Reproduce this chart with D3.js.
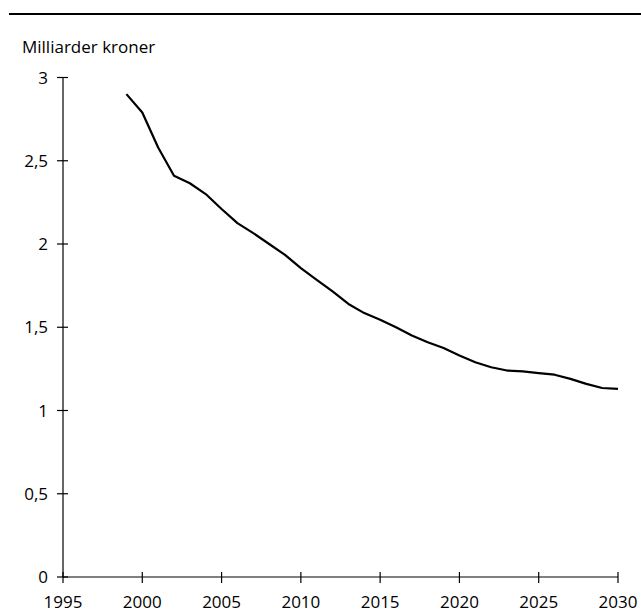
<!DOCTYPE html>
<html><head><meta charset="utf-8">
<script src="https://cdn.jsdelivr.net/npm/d3@7"></script>
<style>
body{margin:0;background:#fff;}
svg text{font-family:"Open Sans","Noto Sans",sans-serif;fill:#000;}
</style></head>
<body>
<svg id="c" width="641" height="614"></svg>
<script>
const years = [1999,2000,2001,2002,2003,2004,2005,2006,2007,2008,2009,2010,2011,2012,2013,2014,2015,2016,2017,2018,2019,2020,2021,2022,2023,2024,2025,2026,2027,2028,2029,2030];
const values = [2.90,2.79,2.58,2.41,2.365,2.30,2.21,2.125,2.065,2.0,1.935,1.855,1.785,1.715,1.64,1.585,1.545,1.50,1.45,1.41,1.375,1.33,1.29,1.26,1.24,1.235,1.225,1.215,1.19,1.16,1.135,1.13];
const xTicks = [1995,2000,2005,2010,2015,2020,2025,2030];
const yTicks = [0,0.5,1,1.5,2,2.5,3];
const yTitle = "Milliarder kroner";

const svg = d3.select("#c");
const fs = 17;
const x = d3.scaleLinear().domain([1995,2030]).range([63,618]);
const y = d3.scaleLinear().domain([0,3]).range([577,77.5]);

svg.append("line").attr("x1",9).attr("x2",641).attr("y1",14).attr("y2",14)
  .attr("stroke","#000").attr("stroke-width",2);

svg.append("text").attr("x",22).attr("y",53).style("font-size",fs+"px").text(yTitle);

// y axis
const ya = svg.append("g");
ya.append("line").attr("x1",x(1995)).attr("x2",x(1995)).attr("y1",y(0)).attr("y2",y(3)).attr("stroke","#000").attr("stroke-width",1.2);
ya.selectAll("line.t").data(yTicks).join("line").attr("class","t")
  .attr("x1",x(1995)-6).attr("x2",x(1995)+5).attr("y1",d=>y(d)).attr("y2",d=>y(d))
  .attr("stroke","#000").attr("stroke-width",1.2);
ya.selectAll("text").data(yTicks).join("text")
  .attr("x",x(1995)-15).attr("y",d=>y(d)).attr("dy","0.36em")
  .attr("text-anchor","end").style("font-size",fs+"px")
  .text(d=>String(d).replace(".",","));

// x axis
const xa = svg.append("g");
xa.append("line").attr("x1",x(1995)).attr("x2",x(2030)).attr("y1",y(0)).attr("y2",y(0)).attr("stroke","#000").attr("stroke-width",1.2);
xa.selectAll("line.t").data(xTicks).join("line").attr("class","t")
  .attr("x1",d=>x(d)).attr("x2",d=>x(d)).attr("y1",y(0)-5).attr("y2",y(0)+6)
  .attr("stroke","#000").attr("stroke-width",1.2);
xa.selectAll("text").data(xTicks).join("text")
  .attr("x",d=>x(d)).attr("y",608)
  .attr("text-anchor","middle").style("font-size",fs+"px")
  .text(d=>d);

const line = d3.line().x((d,i)=>x(years[i])).y(d=>y(d));
svg.append("path").datum(values).attr("d",line)
  .attr("fill","none").attr("stroke","#000").attr("stroke-width",2.2).attr("stroke-linejoin","round");
</script>
</body></html>
